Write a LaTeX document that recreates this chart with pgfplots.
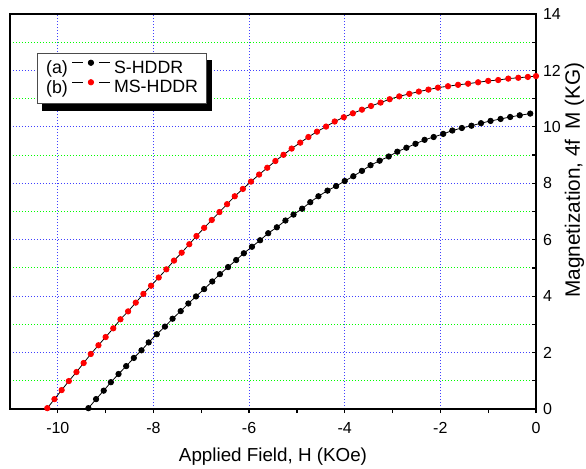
\documentclass[border=0pt]{standalone}
\usepackage{fontspec}
\setmainfont{Liberation Sans}
\usepackage{pgfplots}
\pgfplotsset{compat=1.18}

\begin{document}
\begin{tikzpicture}
\useasboundingbox (-5pt,-29.5pt) rectangle (288pt,204.5pt);
\begin{axis}[
    at={(0,0)}, anchor=south west,
    scale only axis,
    width=263pt,
    height=197.5pt,
    xmin=-11, xmax=0,
    ymin=0, ymax=14,
    xtick={-10,-8,-6,-4,-2,0},
    ytick={0,2,4,6,8,10,12,14},
    minor x tick num=1,
    minor y tick num=1,
    xtick pos=bottom,
    ytick pos=right,
    yticklabel pos=right,
    tick align=inside,
    major tick length=2pt,
    minor tick length=2pt,
    every major x tick/.append style={yshift=-2pt},
    every minor x tick/.append style={yshift=-2pt},
    axis line style={line width=0.8pt},
    tick style={line width=0.6pt, black},
    xmajorgrids, ymajorgrids, yminorgrids,
    major grid style={blue!75, line width=0.5pt, dash pattern=on 0.5pt off 1pt},
    minor grid style={green, line width=0.5pt, dash pattern=on 0.5pt off 1pt},
    /pgf/number format/assume math mode=true,
    tick label style={font=\fontsize{8}{9}\selectfont},
    xticklabel style={yshift=-3pt},
    xlabel={Applied Field, H (KOe)},
    ylabel={Magnetization, 4f\hspace{5pt}M (KG)},
    xlabel style={font=\fontsize{9.4}{11}\selectfont, at={(axis description cs:0.5,-0.1215)}, anchor=center},
    ylabel style={font=\fontsize{10.4}{12}\selectfont, at={(axis description cs:1.073,0.58)}, anchor=center, rotate=0},
    legend columns=2,
    legend plot pos=right,
    legend cell align=left,
    legend image code/.code={
        \draw[mark repeat=2, mark phase=2, dash pattern=on 5.3pt off 8.1pt]
            plot coordinates {(0pt,3pt) (9.35pt,3pt) (18.7pt,3pt)};
    },
    legend style={name=leg, at={(axis description cs:0.0513,0.901)}, anchor=north west,
        font=\fontsize{8.9}{10}\selectfont, draw=black!70, line width=0.5pt,
        fill=white, inner xsep=2.3pt, inner ysep=1.6pt, row sep=-2.2pt, column sep=0pt},
]
\addplot[black, line width=0.4pt, mark=*, mark size=1.35pt, mark options={solid, draw=black, fill=black}, forget plot] coordinates {
(-9.36,0.03) (-9.20,0.35) (-9.04,0.65) (-8.89,0.95) (-8.73,1.24) (-8.57,1.52)
(-8.41,1.81) (-8.25,2.08) (-8.10,2.36) (-7.93,2.65) (-7.76,2.92) (-7.60,3.20)
(-7.43,3.47) (-7.27,3.74) (-7.11,3.99) (-6.94,4.25) (-6.77,4.52) (-6.61,4.78)
(-6.44,5.03) (-6.27,5.28) (-6.11,5.52) (-5.94,5.75) (-5.77,5.98) (-5.60,6.23)
(-5.42,6.44) (-5.24,6.68) (-5.07,6.89) (-4.89,7.10) (-4.72,7.33) (-4.55,7.54)
(-4.36,7.74) (-4.18,7.90) (-4.00,8.08) (-3.82,8.25) (-3.64,8.44) (-3.46,8.64)
(-3.27,8.80) (-3.08,8.95) (-2.90,9.12) (-2.71,9.26) (-2.52,9.40) (-2.33,9.54)
(-2.14,9.64) (-1.94,9.75) (-1.75,9.87) (-1.55,9.96) (-1.35,10.04) (-1.15,10.13)
(-0.95,10.21) (-0.74,10.28) (-0.54,10.35) (-0.34,10.41) (-0.12,10.47)
};
\addplot[black, line width=0.4pt, mark=*, mark size=1.35pt, mark options={solid, draw=red, fill=red}, forget plot] coordinates {
(-10.22,0.03) (-10.07,0.35) (-9.92,0.67) (-9.77,0.99) (-9.61,1.31) (-9.46,1.63)
(-9.31,1.95) (-9.15,2.26) (-9.00,2.55) (-8.84,2.86) (-8.69,3.18) (-8.53,3.46)
(-8.37,3.77) (-8.21,4.08) (-8.05,4.37) (-7.89,4.66) (-7.73,4.95) (-7.57,5.26)
(-7.41,5.54) (-7.25,5.84) (-7.10,6.13) (-6.94,6.42) (-6.78,6.70) (-6.62,6.98)
(-6.46,7.26) (-6.30,7.54) (-6.13,7.80) (-5.96,8.06) (-5.79,8.31) (-5.62,8.55)
(-5.45,8.79) (-5.28,9.01) (-5.11,9.23) (-4.93,9.44) (-4.76,9.64) (-4.58,9.83)
(-4.39,10.01) (-4.21,10.19) (-4.02,10.34) (-3.83,10.48) (-3.64,10.61) (-3.45,10.74)
(-3.25,10.86) (-3.06,10.98) (-2.86,11.08) (-2.65,11.17) (-2.45,11.25) (-2.25,11.32)
(-2.05,11.39) (-1.84,11.44) (-1.63,11.49) (-1.42,11.53) (-1.21,11.58) (-1.00,11.63)
(-0.79,11.66) (-0.58,11.71) (-0.37,11.74) (-0.17,11.77) (0.00,11.80)
};
\addlegendimage{black, line width=0.4pt, mark=*, mark size=1.35pt, mark options={solid, draw=black, fill=black}}
\addlegendentry{(a)}
\addlegendimage{empty legend}
\addlegendentry{S-HDDR}
\addlegendimage{black, line width=0.4pt, mark=*, mark size=1.35pt, mark options={solid, draw=red, fill=red}}
\addlegendentry{(b)}
\addlegendimage{empty legend}
\addlegendentry{MS-HDDR}
\end{axis}
% solid offset shadow of the legend box (right and bottom strips)
\fill[black] ([yshift=-3.3pt]leg.north east) rectangle ([xshift=2.5pt,yshift=-3.3pt]leg.south east);
\fill[black] ([xshift=2.5pt,yshift=-3.3pt]leg.south west) rectangle (leg.south east);
\end{tikzpicture}
\end{document}
